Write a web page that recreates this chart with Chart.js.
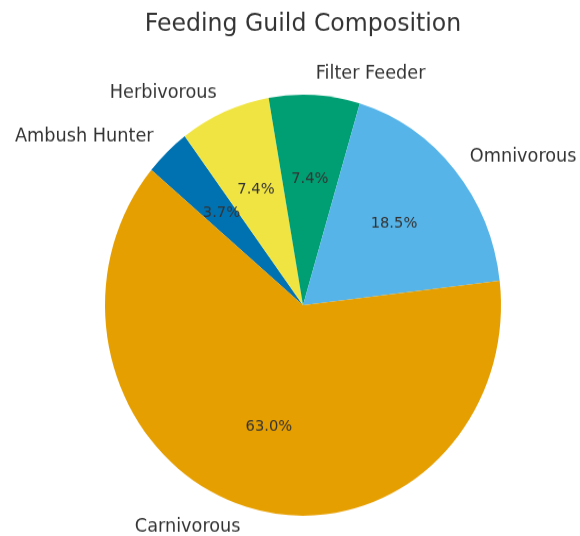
<!DOCTYPE html>
<html>
<head>
<meta charset="utf-8">
<script src="https://cdn.jsdelivr.net/npm/chart.js@4/dist/chart.umd.min.js"></script>
<style>
  html, body { margin: 0; padding: 0; background: #ffffff; width: 580px; height: 536px; }
  #outer { width: 580px; height: 536px; position: relative; }
  #wrap { position: absolute; left: 0; top: 0; width: 580px; height: 504px; transform: scaleY(1.0635); transform-origin: 0 0; }
  canvas { display: block; }
</style>
</head>
<body>
<div id="outer"><div id="wrap"><canvas id="pie" width="580" height="504"></canvas></div></div>
<script>
// Datos del gráfico (orden en el sentido de las agujas del reloj)
const guildLabels = ["Ambush Hunter", "Herbivorous", "Filter Feeder", "Omnivorous", "Carnivorous"];
const guildCounts = [1, 2, 2, 5, 17];
const guildColors = ["#0072B2", "#F0E442", "#009E73", "#56B4E9", "#E69F00"];

const total = guildCounts.reduce((a, b) => a + b, 0);

// Etiquetas fuera de la tarta y porcentajes dentro
const pieLabels = {
  id: "pieLabels",
  afterDatasetsDraw(chart) {
    const ctx = chart.ctx;
    const meta = chart.getDatasetMeta(0);
    ctx.save();
    meta.data.forEach((arc, i) => {
      const mid = (arc.startAngle + arc.endAngle) / 2;
      const r = arc.outerRadius;
      const cos = Math.cos(mid), sin = Math.sin(mid);
      // nombre
      ctx.font = "17.7px 'DejaVu Sans'";
      ctx.fillStyle = "#333333";
      ctx.textBaseline = "middle";
      ctx.textAlign = cos >= 0 ? "left" : "right";
      ctx.fillText(guildLabels[i], arc.x + cos * r * 1.1, arc.y + sin * r * 1.1);
      // porcentaje
      ctx.font = "14.7px 'DejaVu Sans'";
      ctx.textAlign = "center";
      const pct = (guildCounts[i] / total * 100).toFixed(1) + "%";
      ctx.fillText(pct, arc.x + cos * r * 0.6, arc.y + sin * r * 0.6);
    });
    ctx.restore();
  }
};

const ctx = document.getElementById("pie").getContext("2d");
new Chart(ctx, {
  type: "pie",
  data: {
    labels: guildLabels,
    datasets: [{
      data: guildCounts,
      backgroundColor: guildColors,
      borderWidth: 0,
      hoverOffset: 0
    }]
  },
  options: {
    responsive: false,
    animation: false,
    devicePixelRatio: 1,
    rotation: -50,
    layout: {
      padding: { left: 105, right: 79, top: 0, bottom: 19 }
    },
    plugins: {
      legend: { display: false },
      tooltip: { enabled: false },
      title: {
        display: true,
        text: "Feeding Guild Composition",
        color: "#333333",
        font: { family: "'DejaVu Sans'", size: 23.6, weight: "normal", lineHeight: 1.2 },
        padding: { top: 9, bottom: 51.5 }
      }
    }
  },
  plugins: [pieLabels]
});
</script>
</body>
</html>
